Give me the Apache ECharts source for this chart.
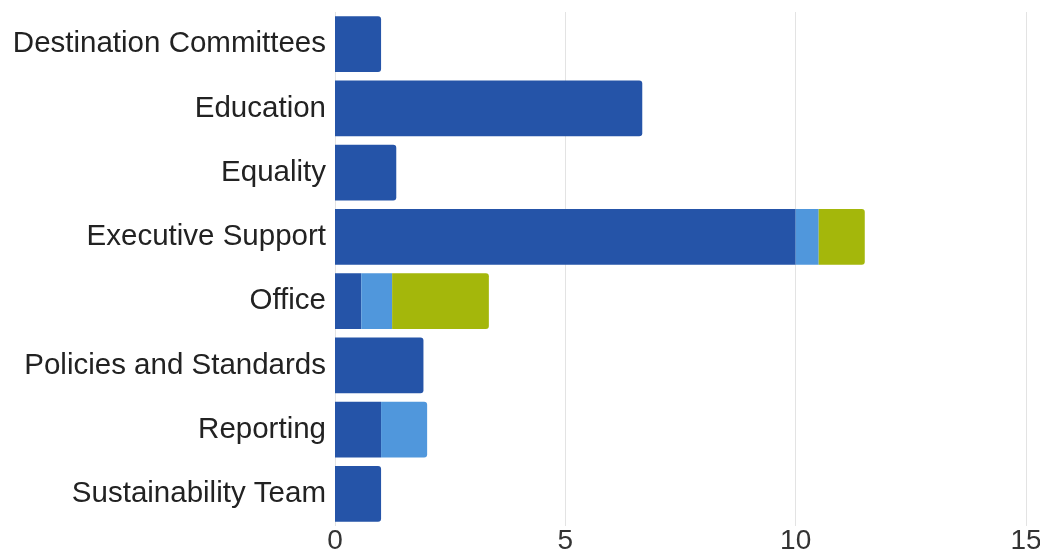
<!DOCTYPE html>
<html>
<head>
<meta charset="utf-8">
<script src="https://cdn.jsdelivr.net/npm/echarts@6/dist/echarts.min.js"></script>
<style>
  html, body { margin: 0; padding: 0; background: #fff; }
  #chart { width: 1040px; height: 550px; }
</style>
</head>
<body>
<div id="chart"></div>
<script>
// Categories listed top to bottom
const categories = [
  'Destination Committees',
  'Education',
  'Equality',
  'Executive Support',
  'Office',
  'Policies and Standards',
  'Reporting',
  'Sustainability Team'
];

// Stacked segment values per category
const seriesA = [1, 6.67, 1.33, 10, 0.57, 1.92, 1, 1];
const seriesB = [0, 0, 0, 0.5, 0.67, 0, 1, 0];
const seriesC = [0, 0, 0, 1, 2.1, 0, 0, 0];

const xTicks = [0, 5, 10, 15];

const colors = ['#2554A8', '#5097DC', '#A4B70B'];
const allSeries = [seriesA, seriesB, seriesC];

// Round only the outer end of each stacked bar
function buildData(idx) {
  return allSeries[idx].map((v, i) => {
    let last = 0;
    allSeries.forEach((s, k) => { if (s[i] > 0) last = k; });
    if (v <= 0) return { value: '-' };
    return {
      value: v,
      itemStyle: { borderRadius: idx === last ? [0, 3, 3, 0] : 0 }
    };
  });
}

const chart = echarts.init(document.getElementById('chart'));
chart.setOption({
  animation: false,
  grid: {
    left: 335, right: 14, top: 12, bottom: 24,
    containLabel: false,
    outerBoundsMode: 'none'
  },
  xAxis: {
    type: 'value',
    min: xTicks[0],
    max: xTicks[xTicks.length - 1],
    interval: 5,
    axisLine: { show: false },
    axisTick: { show: false },
    splitLine: { show: true, lineStyle: { color: '#e3e3e3', width: 1 } },
    axisLabel: {
      color: '#333',
      fontFamily: 'Liberation Sans',
      fontSize: 28,
      margin: 1,
      verticalAlign: 'top'
    }
  },
  yAxis: {
    type: 'category',
    data: categories,
    inverse: true,
    axisLine: { show: false },
    axisTick: { show: false },
    axisLabel: {
      color: '#222',
      fontFamily: 'Liberation Sans',
      fontSize: 29.5,
      margin: 9,
      padding: [3, 0, 0, 0]
    }
  },
  series: allSeries.map((s, idx) => ({
    type: 'bar',
    stack: 'total',
    data: buildData(idx),
    barCategoryGap: '13%',
    itemStyle: { color: colors[idx] }
  }))
});
</script>
</body>
</html>
